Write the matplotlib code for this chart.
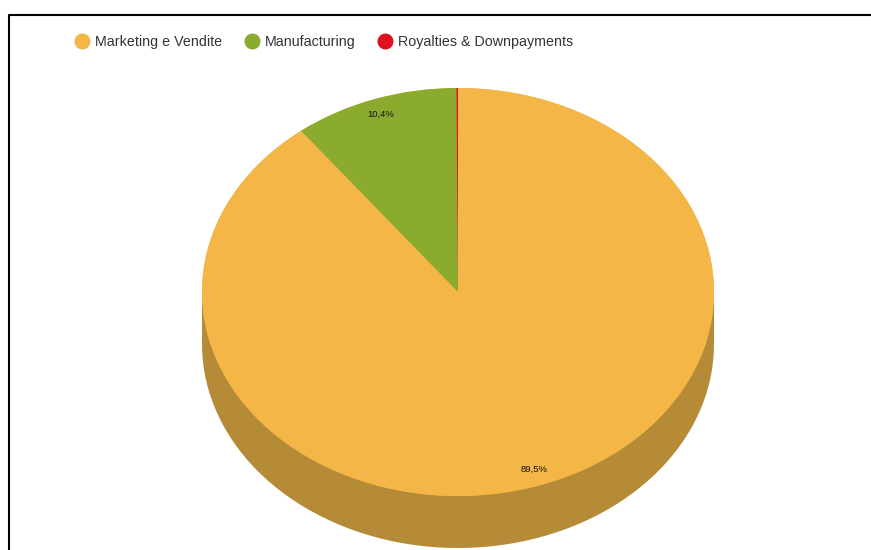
import matplotlib
matplotlib.use('Agg')
import matplotlib.pyplot as plt
from matplotlib.lines import Line2D
from matplotlib.patches import Ellipse, Rectangle

# values
categories = ['Marketing e Vendite', 'Manufacturing', 'Royalties & Downpayments']
shares = [89.5, 10.4, 0.1]
colors = ['#F4B647', '#8AAB2E', '#E0101F']
side_colors = ['#B58B37', '#687F22', '#A80C17']

W, H = 871, 550
cx, cy = 458, 292      # pie centre, pixels from top left
rx, ry = 256, 204      # pie radii in pixels
depth = 52 / ry        # thickness of the fake 3d side


def fmt_pct(p):
    if p < 1:
        return ''
    return f'{p:.1f}%'.replace('.', ',')


plt.rcParams['font.family'] = ['Liberation Sans', 'DejaVu Sans']

fig = plt.figure(figsize=(W / 100, H / 100), dpi=100)
ax = fig.add_axes([0, 0, 1, 1])

# side of the pie first, then the top on it
ax.pie(shares, colors=side_colors, startangle=90, counterclock=False,
       center=(0, -depth), frame=False)
ax.add_patch(Rectangle((-1, -depth), 2, depth, color=side_colors[0], lw=0))
# backing disc so the dark side does not bleed through the wedge seams
ax.add_patch(Ellipse((0, 0), 2, 2, color=colors[0], lw=0))
wedges, texts, autotexts = ax.pie(shares, colors=colors, startangle=90, counterclock=False,
                                  autopct=fmt_pct, pctdistance=0.92, frame=False,
                                  textprops={'fontsize': 6.8, 'color': '#111111'})

ax.set_aspect('auto')
ax.set_xlim(-cx / rx, (W - cx) / rx)
ax.set_ylim(-(H - cy) / ry, cy / ry)
ax.axis('off')

handles = [Line2D([], [], marker='o', ls='', ms=10.5, mfc=c, mec=c) for c in colors]
fig.legend(handles, categories, ncol=3, loc='center left', bbox_to_anchor=(68 / W, 1 - 42 / H),
           frameon=False, fontsize=10.3, labelcolor='#333333', columnspacing=1.03,
           handletextpad=-0.08, borderpad=0, borderaxespad=0)

# black screenshot border
frame_x = [9 / W, 9 / W, 1]
frame_y = [0, 1 - 15 / H, 1 - 15 / H]
fig.add_artist(Line2D(frame_x, frame_y, color='black', lw=1.5, transform=fig.transFigure))

fig.savefig('out.png', dpi=100)
